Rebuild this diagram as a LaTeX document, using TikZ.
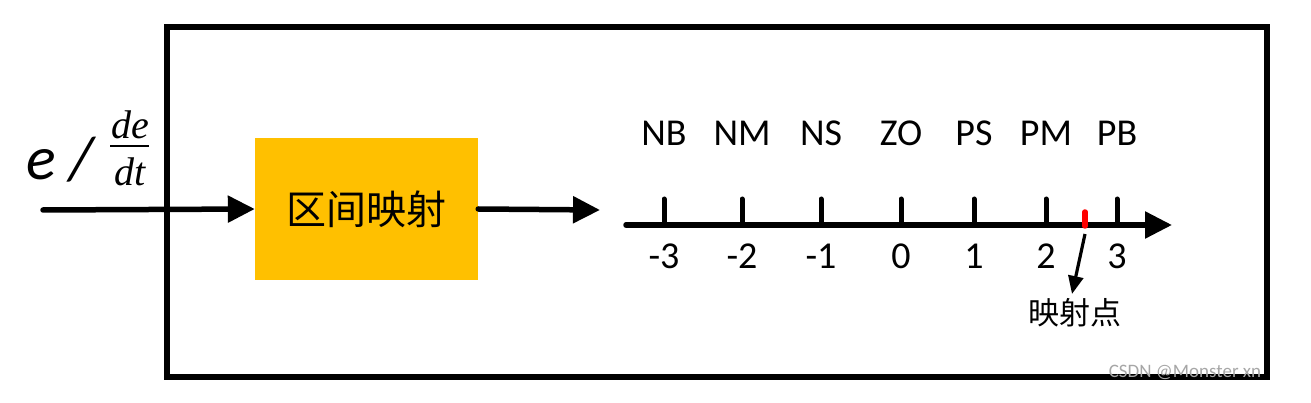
\documentclass[tikz,border=0pt]{standalone}
\usepackage{fontspec}
\setmainfont{Carlito}
\newfontfamily\cjk{Noto Sans CJK SC}
\newfontfamily\tms{Liberation Serif}
\usetikzlibrary{arrows.meta}
\definecolor{boxyellow}{HTML}{FFC000}
\tikzset{
  thick line/.style={line width=5.5pt, line cap=round},
  bigarrow/.style={thick line, -{Triangle[length=27pt,width=26pt]}},
  tick/.style={line width=5pt, line cap=round},
  lbl/.style={font=\fontsize{38}{40}\selectfont, inner sep=0pt},
  fracf/.style={inner sep=0pt, font=\tms\itshape\fontsize{40}{44}\selectfont},
}
\begin{document}
\begin{tikzpicture}[x=1pt,y=-1pt]
\useasboundingbox (0,0) rectangle (1311,403);
% outer frame
\draw[line width=5.5pt] (167,27) rectangle (1267,377);
% input
\coordinate (in) at (43,210);
\node[fill=boxyellow, minimum width=223pt, minimum height=142pt, inner sep=0pt,
      font=\cjk\fontsize{40}{42}\selectfont] (map) at (366.5,209) {区间映射};
\draw[bigarrow] (in) -- (map.west);
\node[inner sep=0pt, font=\fontsize{62}{62}\selectfont\itshape] (e) at (60,160) {e /};
\node[fracf] (de) at (130,125) {de};
\node[fracf] (dt) at (130,172) {dt};
\draw[line width=1.2pt] (110,146) -- (149,146);
% to axis
\coordinate (ax0) at (600,210);
\draw[bigarrow] (map.east) -- (ax0);
% axis
\coordinate (a1) at (626,225);
\coordinate (a2) at (1172,225);
\draw[thick line, -{Triangle[length=27pt,width=26pt]}] (a1) -- (a2);
\foreach \x/\n/\v in {664/NB/-3, 742/NM/-2, 821/NS/-1, 901/ZO/0, 974/PS/1, 1046/PM/2, 1117/PB/3}{
  \draw[tick] (\x,199) -- (\x,225);
  \node[lbl] at (\x,133) {\n};
  \node[lbl] at (\x,256) {\v};
}
\draw[line width=5.5pt, red, line cap=round] (1085,212) -- (1085,226);
\coordinate (pt) at (1085,234);
\node[inner sep=0pt, font=\cjk\fontsize{31}{32}\selectfont] (pl) at (1075,313) {映射点};
\draw[line width=3.2pt, -{Triangle[length=18pt,width=15pt]}] (pt) -- (1072,294);
% watermark
\node[inner sep=0pt, text=gray!70, font=\fontsize{19}{20}\selectfont] (wm) at (1185,372) {CSDN @Monster xn};
\end{tikzpicture}
\end{document}
